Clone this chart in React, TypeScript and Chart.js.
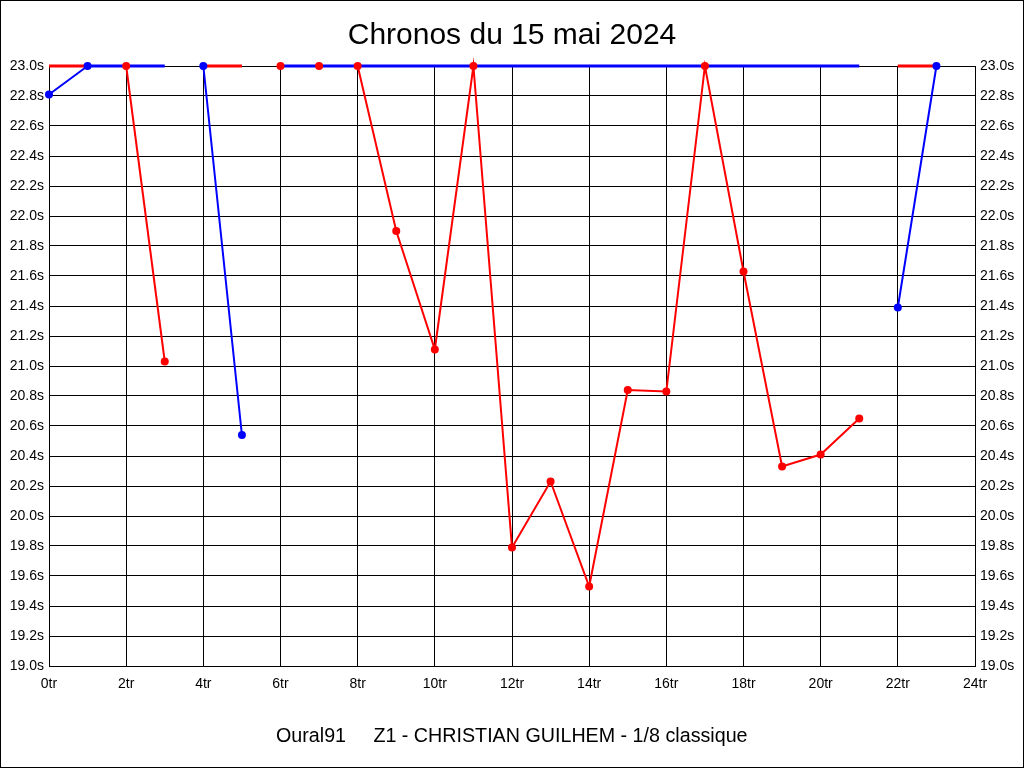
import React, { useEffect, useRef } from "react";
import { Chart, registerables } from "chart.js";

Chart.register(...registerables);

// ---- Data (lap index -> lap time in seconds; values at 23.0 are clipped at the top of the scale) ----
const laps = [0, 1, 2, 3, 4, 5, 6, 7, 8, 9, 10, 11, 12, 13, 14, 15, 16, 17, 18, 19, 20, 21, 22, 23];

const redTimes: (number | null)[] = [
  null, null, 23.0, 21.03, null, null, 23.0, 23.0, 23.0, 21.9, 21.11, 23.0,
  19.79, 20.23, 19.53, 20.84, 20.83, 23.0, 21.63, 20.33, 20.41, 20.65, null, null,
];

const blueTimes: (number | null)[] = [
  22.81, 23.0, null, null, 23.0, 20.54, null, null, null, null, null, null,
  null, null, null, null, null, null, null, null, null, null, 21.39, 23.0,
];

// clipped segments running along the top of the scale
const redClipped: (number | null)[] = [
  23.0, 23.0, null, null, 23.0, 23.0, null, null, null, null, null, null,
  null, null, null, null, null, null, null, null, null, null, 23.0, 23.0,
];

const blueClipped: (number | null)[] = [
  null, 23.0, 23.0, 23.0, null, null, 23.0, 23.0, 23.0, 23.0, 23.0, 23.0,
  23.0, 23.0, 23.0, 23.0, 23.0, 23.0, 23.0, 23.0, 23.0, 23.0, null, null,
];

const Y_MIN = 19.0;
const Y_MAX = 23.0;
const Y_STEP = 0.2;
const X_MIN = 0;
const X_MAX = 24;
const X_STEP = 2;
const yTickSuffix = "s";
const xTickSuffix = "tr";

const titleText = "Chronos du 15 mai 2024";
const footerText = "Oural91     Z1 - CHRISTIAN GUILHEM - 1/8 classique";

const RED = "#ff0000";
const BLUE = "#0000ff";
const FONT = "'Liberation Sans', Arial, sans-serif";

export default function App() {
  const canvasRef = useRef<HTMLCanvasElement | null>(null);

  useEffect(() => {
    if (!canvasRef.current) return;

    const textPlugin = {
      id: "frameAndTexts",
      afterDraw(chart: any) {
        const ctx = chart.ctx as CanvasRenderingContext2D;
        ctx.save();
        ctx.strokeStyle = "#000";
        ctx.lineWidth = 1;
        ctx.strokeRect(0.5, 0.5, chart.width - 1, chart.height - 1);
        ctx.fillStyle = "#000";
        ctx.textAlign = "center";
        ctx.textBaseline = "alphabetic";
        ctx.font = `30px ${FONT}`;
        ctx.fillText(titleText, chart.width / 2, 44);
        ctx.textAlign = "left";
        ctx.font = `19.7px ${FONT}`;
        ctx.fillText(footerText, 276, 742);
        ctx.restore();
      },
    };

    const tickFont = { family: FONT, size: 14 };

    const chart = new Chart(canvasRef.current, {
      type: "line",
      data: {
        labels: laps,
        datasets: [
          {
            label: "rouge",
            data: redTimes,
            borderColor: RED,
            backgroundColor: RED,
            borderWidth: 2,
            pointRadius: 4,
            pointBorderWidth: 0,
            pointBackgroundColor: RED,
            tension: 0,
            spanGaps: false,
            clip: false as any,
            order: 0,
            segment: {
              borderColor: (c: any) =>
                c.p0.parsed.y >= Y_MAX && c.p1.parsed.y >= Y_MAX ? "transparent" : RED,
            },
          },
          {
            label: "bleu",
            data: blueTimes,
            borderColor: BLUE,
            backgroundColor: BLUE,
            borderWidth: 2,
            pointRadius: 4,
            pointBorderWidth: 0,
            pointBackgroundColor: BLUE,
            tension: 0,
            spanGaps: false,
            clip: false as any,
            order: 1,
          },
          {
            label: "bleu (hors échelle)",
            data: blueClipped,
            borderColor: BLUE,
            borderWidth: 3,
            pointRadius: 0,
            tension: 0,
            spanGaps: false,
            clip: false as any,
            order: 2,
          },
          {
            label: "rouge (hors échelle)",
            data: redClipped,
            borderColor: RED,
            borderWidth: 3,
            pointRadius: 0,
            tension: 0,
            spanGaps: false,
            clip: false as any,
            order: 3,
          },
        ],
      },
      options: {
        responsive: false,
        animation: false,
        layout: { padding: { top: 66, left: 0, right: 0, bottom: 0 } },
        plugins: {
          legend: { display: false },
          title: { display: false },
          tooltip: { enabled: false },
        },
        scales: {
          x: {
            type: "linear",
            min: X_MIN,
            max: X_MAX,
            grid: { color: "#000", lineWidth: 1, drawTicks: false },
            border: { display: true, color: "#000", width: 1 },
            ticks: {
              stepSize: X_STEP,
              color: "#000",
              font: tickFont,
              padding: 10,
              maxRotation: 0,
              autoSkip: false,
              callback: (v: any) => `${v}${xTickSuffix}`,
            },
            afterFit: (s: any) => {
              s.height = 102;
            },
          },
          y: {
            type: "linear",
            position: "left",
            min: Y_MIN,
            max: Y_MAX,
            grid: { color: "#000", lineWidth: 1, drawTicks: false },
            border: { display: true, color: "#000", width: 1 },
            ticks: {
              stepSize: Y_STEP,
              color: "#000",
              font: tickFont,
              padding: 5,
              autoSkip: false,
              callback: (v: any) => `${Number(v).toFixed(1)}${yTickSuffix}`,
            },
            afterFit: (s: any) => {
              s.width = 49;
            },
          },
          y2: {
            type: "linear",
            position: "right",
            min: Y_MIN,
            max: Y_MAX,
            grid: { drawOnChartArea: false, drawTicks: false },
            border: { display: true, color: "#000", width: 1 },
            ticks: {
              stepSize: Y_STEP,
              color: "#000",
              font: tickFont,
              padding: 5,
              autoSkip: false,
              callback: (v: any) => `${Number(v).toFixed(1)}${yTickSuffix}`,
            },
            afterFit: (s: any) => {
              s.width = 49;
            },
          },
        },
      },
      plugins: [textPlugin],
    });

    return () => chart.destroy();
  }, []);

  return (
    <div style={{ position: "absolute", left: 0, top: 0, width: 1024, height: 768, background: "#fff" }}>
      <canvas ref={canvasRef} width={1024} height={768} style={{ display: "block" }} />
    </div>
  );
}
